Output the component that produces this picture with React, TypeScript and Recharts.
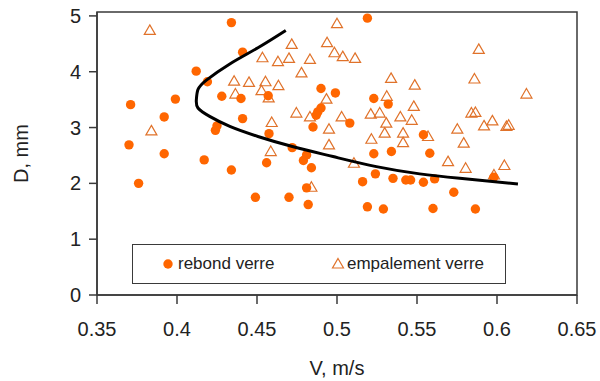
import { ScatterChart, Scatter, XAxis, YAxis, ReferenceArea } from 'recharts';

// rebond verre (filled circles)
const rebondV = [
  0.434, 0.441, 0.412, 0.419, 0.428, 0.44, 0.399, 0.371, 0.392, 0.441, 0.425, 0.424, 0.37, 0.392, 0.417, 0.434,
  0.376, 0.449, 0.519, 0.457, 0.49, 0.499, 0.523, 0.532, 0.49, 0.488, 0.487, 0.485, 0.508, 0.4575, 0.472, 0.481,
  0.479, 0.484, 0.456, 0.523, 0.534, 0.524, 0.516, 0.535, 0.543, 0.546, 0.481, 0.47, 0.482, 0.519, 0.529,
  0.554, 0.558, 0.554, 0.561, 0.573, 0.598, 0.56, 0.5865,
];
const rebondD = [
  4.88, 4.35, 4.01, 3.82, 3.56, 3.52, 3.51, 3.41, 3.19, 3.16, 3.03, 2.95, 2.69, 2.53, 2.42, 2.24,
  2.0, 1.75, 4.96, 3.57, 3.7, 3.62, 3.52, 3.42, 3.35, 3.28, 3.22, 3.01, 3.08, 2.89, 2.64, 2.51,
  2.41, 2.28, 2.37, 2.53, 2.57, 2.17, 2.03, 2.09, 2.06, 2.06, 1.92, 1.75, 1.62, 1.58, 1.54,
  2.87, 2.54, 2.02, 2.08, 1.84, 2.11, 1.55, 1.54,
];

// empalement verre (open triangles)
const empalV = [
  0.383, 0.384, 0.4357, 0.445, 0.4365, 0.5, 0.4717, 0.4938, 0.4534, 0.4631, 0.47, 0.4831, 0.4984, 0.5036, 0.5113,
  0.4778, 0.4553, 0.4634, 0.4528, 0.4573, 0.5338, 0.5486, 0.5311, 0.4934, 0.548, 0.4746, 0.4831, 0.5029, 0.5211,
  0.5267, 0.5396, 0.5467, 0.4592, 0.5308, 0.495, 0.5298, 0.5413, 0.5215, 0.5413, 0.495, 0.4586, 0.5106, 0.484,
  0.5886, 0.5859, 0.6184, 0.584, 0.5865, 0.5971, 0.5919, 0.6059, 0.6073, 0.5752, 0.5792, 0.5569, 0.5694, 0.5804,
  0.6046, 0.5981,
];
const empalD = [
  4.74, 2.94, 3.83, 3.81, 3.6, 4.86, 4.49, 4.52, 4.25, 4.18, 4.24, 4.22, 4.34, 4.27, 4.24,
  3.98, 3.82, 3.75, 3.66, 3.53, 3.88, 3.76, 3.56, 3.51, 3.38, 3.26, 3.19, 3.19, 3.24,
  3.26, 3.19, 3.13, 3.09, 3.08, 2.97, 2.9, 2.9, 2.79, 2.73, 2.69, 2.57, 2.36, 1.93,
  4.4, 3.87, 3.6, 3.26, 3.27, 3.12, 3.03, 3.02, 3.04, 2.97, 2.72, 2.84, 2.39, 2.27,
  2.32, 2.15,
];

// boundary curve
const curveV = [0.468, 0.4506, 0.433, 0.4184, 0.4131, 0.4121, 0.4131, 0.4204, 0.433, 0.4506, 0.4721, 0.4975, 0.5246, 0.5517, 0.5767, 0.6131];
const curveD = [4.74, 4.43, 4.14, 3.85, 3.68, 3.5, 3.35, 3.2, 3.02, 2.84, 2.66, 2.48, 2.3, 2.17, 2.09, 1.99];

const xTicks = [0.35, 0.4, 0.45, 0.5, 0.55, 0.6, 0.65];
const yTicks = [0, 1, 2, 3, 4, 5];

const toPoints = (xs: number[], ys: number[]) => xs.map((x, i) => ({ x, y: ys[i] }));

const FONT = '"Liberation Sans", Arial, sans-serif';
const ORANGE = '#FF6600';
const TRI = '#E0722A';
const AXIS = '#3a3a3a';

const Dot = (p: any) => <circle cx={p.cx} cy={p.cy} r={4.7} fill={ORANGE} />;
const Tri = (p: any) => (
  <path
    d={`M${p.cx},${p.cy - 5.5} L${p.cx + 5.5},${p.cy + 4} L${p.cx - 5.5},${p.cy + 4} Z`}
    fill="none"
    stroke={TRI}
    strokeWidth={1.2}
  />
);

const App = () => {
  const tickStyle = { fontSize: 20, fill: '#222', fontFamily: FONT };
  return (
    <div style={{ position: 'absolute', left: 0, top: 0, width: 600, height: 381, background: '#fff', fontFamily: FONT }}>
      <ScatterChart width={600} height={381} margin={{ top: 12, right: 23, bottom: 0, left: 0 }}>
        <XAxis
          type="number"
          dataKey="x"
          domain={[0.35, 0.65]}
          ticks={xTicks}
          height={86}
          tickSize={9}
          tickMargin={18}
          tick={tickStyle}
          stroke={AXIS}
          strokeWidth={1.5}
          label={{ value: 'V, m/s', position: 'insideBottom', offset: 6, style: { fontSize: 20, fill: '#222', fontFamily: FONT } }}
        />
        <YAxis
          type="number"
          dataKey="y"
          domain={[0, 5.07]}
          ticks={yTicks}
          width={97}
          tickSize={8}
          tickMargin={8}
          tick={tickStyle}
          stroke={AXIS}
          strokeWidth={1.5}
          label={{ value: 'D, mm', angle: -90, position: 'insideLeft', offset: 21, style: { textAnchor: 'middle', fontSize: 20, fill: '#222', fontFamily: FONT } }}
        />
        <ReferenceArea x1={0.35} x2={0.65} y1={0} y2={5.07} fill="none" stroke={AXIS} strokeWidth={1.5} />
        <Scatter name="empalement verre" data={toPoints(empalV, empalD)} shape={Tri} isAnimationActive={false} />
        <Scatter name="rebond verre" data={toPoints(rebondV, rebondD)} shape={Dot} isAnimationActive={false} />
        <Scatter
          name="curve"
          data={toPoints(curveV, curveD)}
          shape={() => <g />}
          line={{ stroke: '#000', strokeWidth: 3 }}
          lineJointType="natural"
          isAnimationActive={false}
        />
      </ScatterChart>
      <div
        style={{
          position: 'absolute',
          left: 132,
          top: 244,
          width: 374,
          height: 40,
          boxSizing: 'border-box',
          border: `1.5px solid ${AXIS}`,
          background: '#fff',
          fontSize: 17,
          color: '#222',
        }}
      >
        <svg width={12} height={12} style={{ position: 'absolute', left: 29, top: 13 }}>
          <circle cx={6} cy={6} r={4.7} fill={ORANGE} />
        </svg>
        <span style={{ position: 'absolute', left: 45, top: 9, lineHeight: '20px' }}>rebond verre</span>
        <svg width={14} height={14} style={{ position: 'absolute', left: 198, top: 12 }}>
          <path d="M7,1.5 L12.5,11 L1.5,11 Z" fill="none" stroke={TRI} strokeWidth={1.2} />
        </svg>
        <span style={{ position: 'absolute', left: 214, top: 9, lineHeight: '20px' }}>empalement verre</span>
      </div>
    </div>
  );
};

export default App;
